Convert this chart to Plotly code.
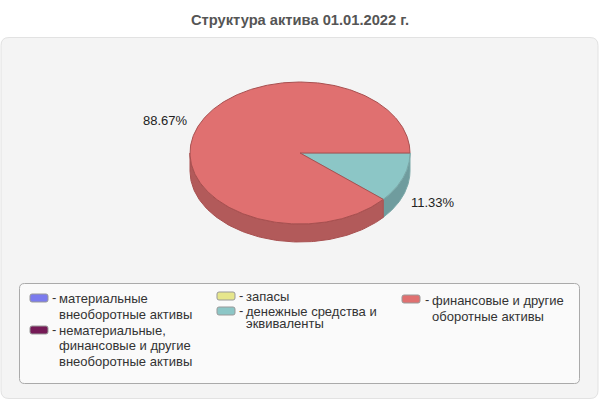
import numpy as np
import plotly.graph_objects as go

# Данные
categories = [
    ["материальные", "внеоборотные активы"],
    ["нематериальные,", "финансовые и другие", "внеоборотные активы"],
    ["запасы"],
    ["денежные средства и", "эквиваленты"],
    ["финансовые и другие", "оборотные активы"],
]
values = [0, 0, 0, 11.33, 88.67]
colors = ["#7b7bee", "#751a56", "#e6e68c", "#8cc6c6", "#e07070"]
side_colors = ["#5c5cb2", "#581440", "#adad69", "#6f9c9e", "#b25a5a"]
line_colors = ["#5c5cb2", "#581440", "#adad69", "#7aa8a8", "#a85050"]
title = "Структура актива 01.01.2022 г."

# Геометрия псевдо-3D круга
cx, cy, rx, ry, depth = 300, 153, 110, 71, 18
label_pos = {3: (433, 202), 4: (165, 120)}

# Легенда: x значка, y значка, x текста, y строк
legend_pos = [
    (30, 294, 59, [298, 314]),
    (30, 326, 59, [330, 345, 361]),
    (217, 292, 246, [296]),
    (217, 307, 246, [311, 323]),
    (402, 295, 432, [300, 316]),
]


def rounded(x0, y0, x1, y1, r):
    return (
        f"M{x0 + r},{y0} L{x1 - r},{y0} Q{x1},{y0} {x1},{y0 + r} "
        f"L{x1},{y1 - r} Q{x1},{y1} {x1 - r},{y1} "
        f"L{x0 + r},{y1} Q{x0},{y1} {x0},{y1 - r} "
        f"L{x0},{y0 + r} Q{x0},{y0} {x0 + r},{y0} Z"
    )


fig = go.Figure()

# Сектора
start = 0
slices = []
for i, v in enumerate(values):
    end = start + v / sum(values) * 2 * np.pi
    if v > 0:
        slices.append((i, start, end))
    start = end

# боковая стенка
for i, a0, a1 in slices:
    a1_side = min(a1, np.pi)
    if a0 >= a1_side:
        continue
    t = np.linspace(a0, a1_side, 120)
    x = cx + rx * np.cos(t)
    y = cy + ry * np.sin(t)
    fig.add_trace(go.Scatter(
        x=np.r_[x, x[::-1], x[0]],
        y=np.r_[y, y[::-1] + depth, y[0]],
        mode="lines", fill="toself", fillcolor=side_colors[i],
        line=dict(color=line_colors[i], width=1), hoverinfo="skip",
    ))

# верх
for i, a0, a1 in slices:
    t = np.linspace(a0, a1, 400)
    fig.add_trace(go.Scatter(
        x=np.r_[cx, cx + rx * np.cos(t), cx],
        y=np.r_[cy, cy + ry * np.sin(t), cy],
        mode="lines", fill="toself", fillcolor=colors[i],
        line=dict(color=line_colors[i], width=1), hoverinfo="skip",
    ))

shapes = [
    dict(type="path", path=rounded(1, 37.5, 598, 398.5, 8),
         fillcolor="#f4f4f4", line=dict(color="#e2e2e2", width=1), layer="below"),
    dict(type="path", path=rounded(19.5, 283.5, 579.5, 383.5, 5),
         fillcolor="#fafafa", line=dict(color="#aaaaaa", width=1), layer="below"),
]

annotations = [
    dict(x=300, y=20, text=f"<b>{title}</b>", showarrow=False,
         font=dict(size=14.7, color="#555555")),
]

for i, (x, y) in label_pos.items():
    annotations.append(dict(x=x, y=y, text=f"{values[i]:.2f}%", showarrow=False,
                            font=dict(size=13, color="#222222")))

for i, (sx, sy, tx, ys) in enumerate(legend_pos):
    shapes.append(dict(type="path", path=rounded(sx, sy, sx + 18, sy + 8, 2),
                       fillcolor=colors[i], line=dict(color="#999999", width=1)))
    annotations.append(dict(x=tx - 5.5, y=ys[0] - 1, text="-", showarrow=False,
                            font=dict(size=13, color="#333333")))
    for line, ly in zip(categories[i], ys):
        annotations.append(dict(x=tx, y=ly, text=line, showarrow=False, xanchor="left",
                                xshift=-2, font=dict(size=13, color="#333333")))

fig.update_layout(
    width=600, height=400,
    margin=dict(l=0, r=0, t=0, b=0),
    paper_bgcolor="white", plot_bgcolor="rgba(0,0,0,0)",
    showlegend=False,
    font=dict(family="Liberation Sans"),
    xaxis=dict(range=[0, 600], visible=False, fixedrange=True),
    yaxis=dict(range=[400, 0], visible=False, fixedrange=True),
    shapes=shapes,
    annotations=annotations,
)

fig.write_html("out.html", config={"displayModeBar": False},
               post_script="document.body.style.margin = '0';")
